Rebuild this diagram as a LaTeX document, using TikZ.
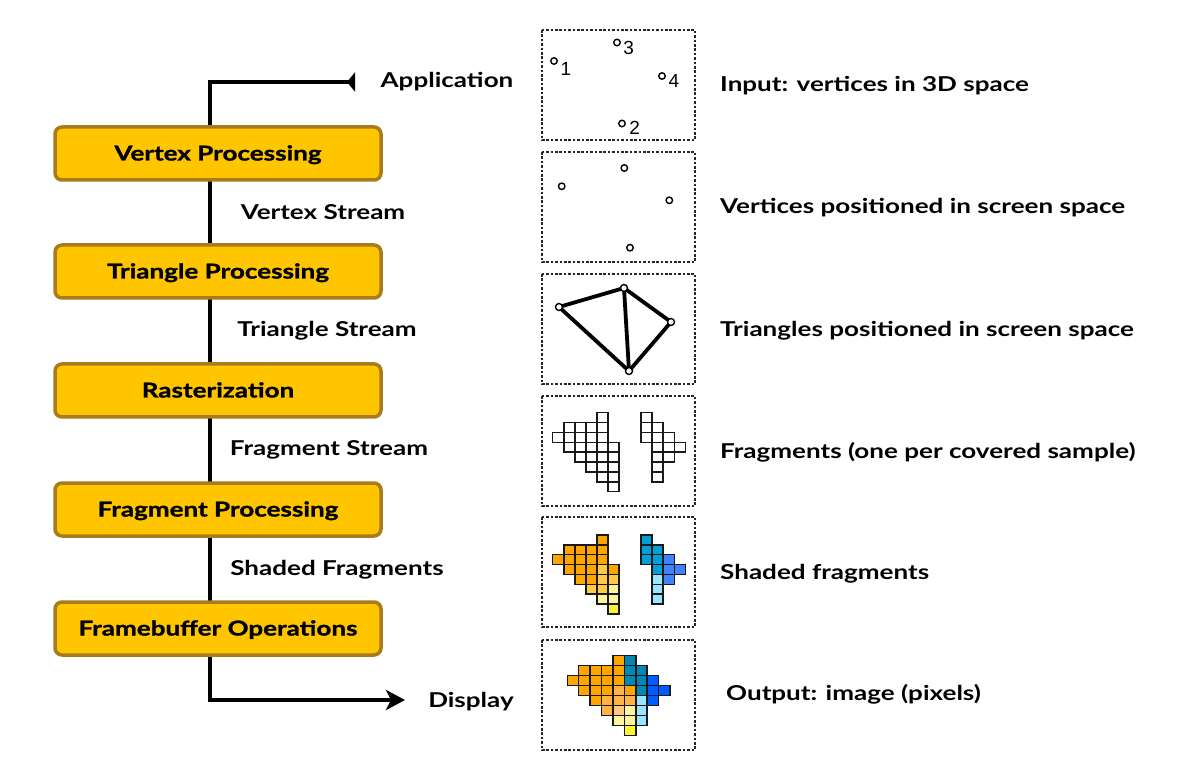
\documentclass[tikz,border=0pt]{standalone}
\usepackage{fontspec}
\setmainfont{Lato}[BoldFeatures={FakeStretch=1.27}]
\newfontfamily\boxfont{Lato}[BoldFeatures={FakeStretch=1.27,FakeBold=1.3}]
\newfontfamily\numfont{Liberation Sans}
\usetikzlibrary{arrows.meta}
\definecolor{boxfill}{HTML}{FFC600}
\definecolor{boxedge}{HTML}{A97B1C}
\definecolor{O}{HTML}{FFA500}
\definecolor{L}{HTML}{FFCA4A}
\definecolor{Lb}{HTML}{FFB347}
\definecolor{PE}{HTML}{FFC980}
\definecolor{P}{HTML}{FFF59D}
\definecolor{Y}{HTML}{FFF22E}
\definecolor{T}{HTML}{00A0D6}
\definecolor{Tb}{HTML}{0088B5}
\definecolor{B}{HTML}{3D82FF}
\definecolor{Bb}{HTML}{005CFF}
\definecolor{C}{HTML}{9BE4FF}
\begin{document}
\begin{tikzpicture}[x=1pt,y=-1pt,
  stage/.style={draw=boxedge, fill=boxfill, line width=3.5pt, rounded corners=7pt,
    minimum width=326pt, minimum height=53pt, inner sep=0pt,
    text height=18pt, text depth=4pt,
    font=\boxfont\bfseries\fontsize{20.5}{24}\selectfont},
  lbl/.style={font=\bfseries\fontsize{20.5}{24}\selectfont, inner sep=0pt,
    text height=18pt, text depth=4pt},
  rlbl/.style={lbl, anchor=west},
  spine/.style={line width=4pt},
  panel/.style={draw=black!85, line width=1.3pt, dash pattern=on 2.6pt off 1.8pt},
  vtx/.style={circle, draw=black, fill=white, line width=1.4pt, minimum size=6.5pt, inner sep=0pt},
  num/.style={font=\numfont\fontsize{19}{21}\selectfont, inner sep=0pt},
  edge/.style={line width=3.8pt, line cap=round},
  cell/.style={draw=black!90, line width=1.5pt}
]
\useasboundingbox (0,0) rectangle (1189,775);

% spine
\coordinate (appin) at (355,82);
\coordinate (spinetop) at (210,82);
\coordinate (spinebot) at (210,700);
\coordinate (dispout) at (405,700);
\draw[spine, {Triangle[reversed,length=8pt,width=19pt]}-{Stealth[length=19pt,width=20pt,inset=5pt]}]
  (appin) -- (spinetop) -- (spinebot) -- (dispout);

% stages
\node[stage] (vp) at (218,153.5) {Vertex Processing};
\node[stage] (tp) at (218,271.5) {Triangle Processing};
\node[stage] (rz) at (218,390.5) {Rasterization};
\node[stage] (fp) at (218,509.5) {Fragment Processing};
\node[stage] (fb) at (218,628.5) {Framebuffer Operations};

% stream labels
\node[lbl] (app) at (447,81) {Application};
\node[lbl] (disp) at (471,700) {Display};
\node[lbl] (vs) at (323,213) {Vertex Stream};
\node[lbl] (ts) at (327,330) {Triangle Stream};
\node[lbl] (fs) at (329,449) {Fragment Stream};
\node[lbl] (sf) at (337,568) {Shaded Fragments};

% right labels
\node[rlbl] (r1) at (720,85) {Input: vertices in 3D space};
\node[rlbl] (r2) at (720,207) {Vertices positioned in screen space};
\node[rlbl] (r3) at (720,330) {Triangles positioned in screen space};
\node[rlbl] (r4) at (720,451) {Fragments (one per covered sample)};
\node[rlbl] (r5) at (720,572) {Shaded fragments};
\node[rlbl] (r6) at (726,693) {Output: image (pixels)};

% panels
\draw[panel] (542,30) rectangle (695,140);
\draw[panel] (542,152) rectangle (695,262);
\draw[panel] (542,274) rectangle (695,384);
\draw[panel] (542,396) rectangle (695,506);
\draw[panel] (542,517) rectangle (695,627);
\draw[panel] (542,640) rectangle (695,750);

% panel 1
\node[vtx] (a1) at (554,61) {};
\node[vtx] (a3) at (617,42.5) {};
\node[vtx] (a4) at (662,76) {};
\node[vtx] (a2) at (622,123.5) {};
\node[num] at (566,68.5) {1};
\node[num] at (628.7,47.5) {3};
\node[num] at (673.8,81) {4};
\node[num] at (634.7,128) {2};

% panel 2
\node[vtx] (b1) at (561.7,186.3) {};
\node[vtx] (b3) at (624.3,168) {};
\node[vtx] (b4) at (669.3,200.3) {};
\node[vtx] (b2) at (630,247.7) {};

% panel 3
\coordinate (c1) at (559,307);
\coordinate (c3) at (624,288);
\coordinate (c4) at (671,322);
\coordinate (c2) at (629,371);
\draw[edge] (c1) -- (c3) -- (c4) -- (c2) -- cycle;
\draw[edge] (c3) -- (c2);
\node[vtx, minimum size=7pt] (d1) at (c1) {};
\node[vtx, minimum size=7pt] (d3) at (c3) {};
\node[vtx, minimum size=7pt] (d4) at (c4) {};
\node[vtx, minimum size=7pt] (d2) at (c2) {};

% panel 4 fragments
\foreach \c/\r in {4/0, 1/1,2/1,3/1,4/1, 0/2,1/2,2/2,3/2,4/2, 1/3,2/3,3/3,4/3,5/3,
  2/4,3/4,4/4,5/4, 3/5,4/5,5/5, 4/6,5/6, 5/7,
  8/0, 8/1,9/1, 8/2,9/2,10/2, 9/3,10/3,11/3, 9/4,10/4, 9/5, 9/6}
  \draw[cell, fill=white] ({552.7+\c*11.05},{412.7+\r*9.87}) rectangle ++(11.05,9.87);

% panel 5 shaded fragments
\foreach \c/\r/\cl in {4/0/O, 1/1/O,2/1/O,3/1/O,4/1/O, 0/2/O,1/2/O,2/2/O,3/2/O,4/2/O,
  1/3/O,2/3/O,3/3/O,4/3/L,5/3/O, 2/4/O,3/4/O,4/4/L,5/4/L, 3/5/L,4/5/L,5/5/P,
  4/6/P,5/6/P, 5/7/Y,
  8/0/T, 8/1/T,9/1/T, 8/2/T,9/2/T,10/2/B, 9/3/T,10/3/B,11/3/B, 9/4/C,10/4/B, 9/5/C, 9/6/C}
  \draw[cell, fill=\cl] ({552.7+\c*11.05},{535+\r*9.86}) rectangle ++(11.05,9.86);

% panel 6 output image
\foreach \c/\r/\cl in {4/0/O,5/0/Tb,
  1/1/O,2/1/O,3/1/O,4/1/O,5/1/Tb,6/1/Tb,
  0/2/O,1/2/O,2/2/O,3/2/O,4/2/O,5/2/Tb,6/2/Tb,7/2/Bb,
  1/3/O,2/3/O,3/3/O,4/3/Lb,5/3/O,6/3/Tb,7/3/Bb,8/3/Bb,
  2/4/O,3/4/Lb,4/4/Lb,5/4/Lb,6/4/C,7/4/Bb,
  3/5/Lb,4/5/PE,5/5/P,6/5/C,
  4/6/P,5/6/P,6/6/C,
  5/7/Y}
  \draw[cell, fill=\cl] ({567.3+\c*11.42},{655.7+\r*10})  rectangle ++(11.42,10);
\end{tikzpicture}
\end{document}
